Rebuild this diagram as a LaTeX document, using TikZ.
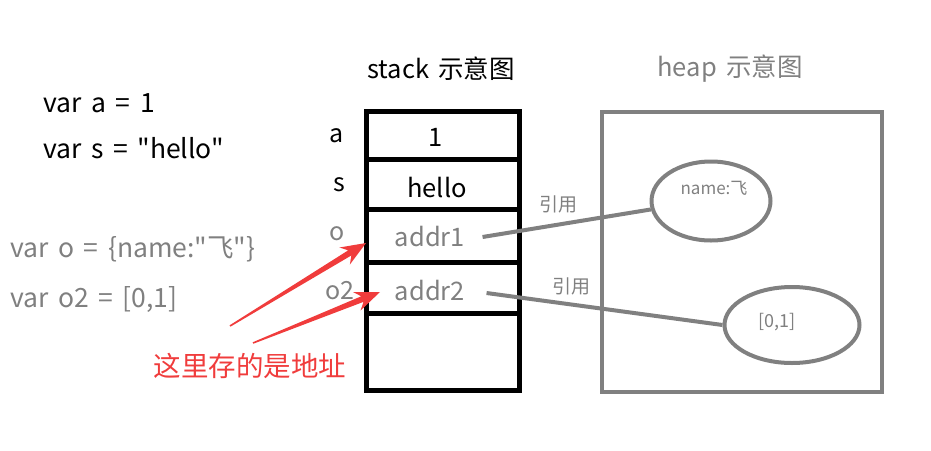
\documentclass[tikz,border=0pt]{standalone}
\usepackage{fontspec}
\setmainfont{Noto Sans CJK SC}[Ligatures=TeXOff, WordSpace=1.6]
\usetikzlibrary{calc}
\usetikzlibrary{shapes.geometric}

\definecolor{refgray}{HTML}{808080}
\definecolor{addrred}{HTML}{F03C3C}

% tapered red arrow from #1 to #2
\newcommand{\addrarrow}[2]{%
    \coordinate (#1-neck) at ($(#2)!19pt!(#1)$);
    \coordinate (#1-barb) at ($(#2)!25pt!(#1)$);
    \fill[addrred] ($(#1)!0.8pt!90:(#2)$) -- ($(#1-neck)!3pt!90:(#2)$) -- ($(#1-barb)!10pt!90:(#2)$)
        -- (#2) -- ($(#1-barb)!10pt!-90:(#2)$) -- ($(#1-neck)!3pt!-90:(#2)$) -- ($(#1)!0.8pt!-90:(#2)$) -- cycle;
}

\begin{document}
\begin{tikzpicture}[x=1pt, y=-1pt,
            code/.style={anchor=west, font=\fontsize{26.5}{30}\selectfont},
            varname/.style={font=\fontsize{25}{29}\selectfont},
            cell/.style={draw=black, line width=5pt, minimum width=153pt, inner sep=0pt},
            value/.style={font=\fontsize{25.5}{29}\selectfont},
            heapbox/.style={draw=refgray, line width=4pt, minimum width=280pt, minimum height=280pt, inner sep=0pt},
            obj/.style={draw=refgray, line width=4pt, ellipse, inner sep=0pt},
            small/.style={color=refgray, font=\fontsize{19}{22}\selectfont},
            ref/.style={draw=refgray, line width=4pt}
        ]
            \useasboundingbox (0,0) rectangle (931,450);

            % code on the left
            \node[code] (codea) at (40,103) {var a = 1};
            \node[code] (codes) at (40,148) {var s = "hello"};
            \node[code, color=refgray] (codeo) at (7,249) {var o = \{name:"飞"\}};
            \node[code, color=refgray] (codeo2) at (7,300) {var o2 = [0,1]};

            % stack
            \node[value] (stacktitle) at (441,69) {stack 示意图};
            \node[cell, minimum height=48pt] (rowa) at (442.5,135) {};
            \node[cell, minimum height=50pt] (rows) at (442.5,184) {};
            \node[cell, minimum height=53pt] (rowo) at (442.5,235.5) {};
            \node[cell, minimum height=51pt] (rowo2) at (442.5,287.5) {};
            \node[cell, minimum height=77pt] (rowfree) at (442.5,351.5) {};

            \node[varname] (namea) at (337,136) {a};
            \node[varname] (names) at (339,185) {s};
            \node[varname, color=refgray] (nameo) at (337,234) {o};
            \node[varname, color=refgray] (nameo2) at (340,291) {o2};

            \node[value] (vala) at (436,137) {1};
            \node[value] (vals) at (437,188) {hello};
            \node[value, color=refgray] (valo) at (430,237) {addr1};
            \node[value, color=refgray] (valo2) at (430,291) {addr2};

            % heap
            \node[value, color=refgray] (heaptitle) at (730,69) {heap 示意图};
            \node[heapbox] (heap) at (742,252) {};
            \node[obj, minimum width=119pt, minimum height=79pt] (objo) at (711,201) {};
            \node[obj, minimum width=135pt, minimum height=76pt] (objo2) at (792,325) {};
            \node[small, font=\fontsize{17}{20}\selectfont] (texto) at (714,188) {name:飞};
            \node[small, font=\fontsize{18}{21}\selectfont] (texto2) at (777,322) {[0,1]};

            % references
            \draw[ref] ([xshift=14pt]valo.east) -- (objo.188) node[small, pos=0.45, above=6pt] {引用};
            \draw[ref] ([xshift=18pt, yshift=-2pt]valo2.east) -- (objo2.west) node[small, pos=0.36, above=4pt] {引用};

            % red note
            \node[color=addrred, font=\fontsize{27.5}{32}\selectfont] (note) at (250,366) {这里存的是地址};
            \coordinate (tipo) at (366,243);
            \coordinate (tipo2) at (380,292);
            \coordinate (starto) at (230,326);
            \coordinate (starto2) at (253,343);
            \addrarrow{starto}{tipo}
            \addrarrow{starto2}{tipo2}

        \end{tikzpicture}
\end{document}
